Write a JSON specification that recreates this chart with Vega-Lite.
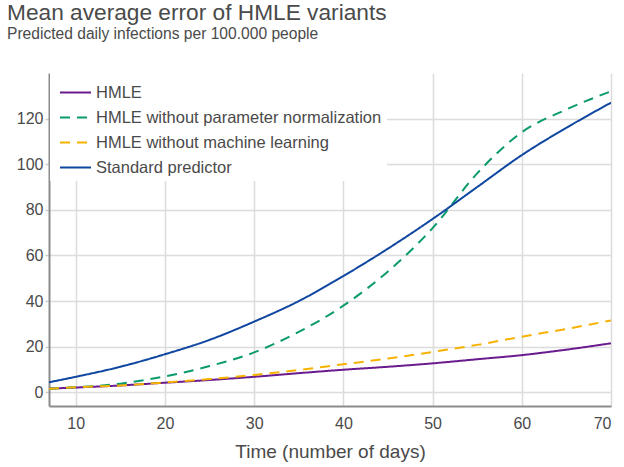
{
  "$schema": "https://vega.github.io/schema/vega-lite/v6.json",
  "autosize": "none",
  "padding": {"left": 49, "top": 73, "right": 13, "bottom": 61},
  "width": 562,
  "height": 333,
  "background": "white",
  "config": {
    "font": "Liberation Sans",
    "view": {"stroke": null}
  },
  "title": {
    "text": "Mean average error of HMLE variants",
    "subtitle": "Predicted daily infections per 100.000 people",
    "anchor": "start",
    "frame": "group",
    "dx": -42,
    "offset": 28,
    "font": "Liberation Sans",
    "fontSize": 22.7,
    "fontWeight": "normal",
    "color": "#4a4a4a",
    "subtitleFont": "Liberation Sans",
    "subtitleFontSize": 15.6,
    "subtitleColor": "#4a4a4a",
    "subtitlePadding": 3
  },
  "data": {
    "values": [
      {"day": 7, "series": "HMLE", "value": 1.6},
      {"day": 10, "series": "HMLE", "value": 2.1},
      {"day": 15, "series": "HMLE", "value": 3.0},
      {"day": 20, "series": "HMLE", "value": 4.2},
      {"day": 25, "series": "HMLE", "value": 5.4},
      {"day": 30, "series": "HMLE", "value": 6.8},
      {"day": 35, "series": "HMLE", "value": 8.4},
      {"day": 40, "series": "HMLE", "value": 9.9},
      {"day": 45, "series": "HMLE", "value": 11.2},
      {"day": 50, "series": "HMLE", "value": 12.7},
      {"day": 55, "series": "HMLE", "value": 14.5},
      {"day": 60, "series": "HMLE", "value": 16.3},
      {"day": 65, "series": "HMLE", "value": 18.7},
      {"day": 70, "series": "HMLE", "value": 21.5},
      {"day": 7, "series": "HMLE without parameter normalization", "value": 1.6},
      {"day": 10, "series": "HMLE without parameter normalization", "value": 2.2},
      {"day": 15, "series": "HMLE without parameter normalization", "value": 3.8},
      {"day": 20, "series": "HMLE without parameter normalization", "value": 7.0},
      {"day": 25, "series": "HMLE without parameter normalization", "value": 11.5},
      {"day": 30, "series": "HMLE without parameter normalization", "value": 17.5},
      {"day": 35, "series": "HMLE without parameter normalization", "value": 26.5},
      {"day": 40, "series": "HMLE without parameter normalization", "value": 38},
      {"day": 45, "series": "HMLE without parameter normalization", "value": 53},
      {"day": 50, "series": "HMLE without parameter normalization", "value": 72},
      {"day": 55, "series": "HMLE without parameter normalization", "value": 96},
      {"day": 60, "series": "HMLE without parameter normalization", "value": 114},
      {"day": 65, "series": "HMLE without parameter normalization", "value": 124},
      {"day": 70, "series": "HMLE without parameter normalization", "value": 132},
      {"day": 7, "series": "HMLE without machine learning", "value": 1.6},
      {"day": 10, "series": "HMLE without machine learning", "value": 2.2},
      {"day": 15, "series": "HMLE without machine learning", "value": 3.0},
      {"day": 20, "series": "HMLE without machine learning", "value": 4.3},
      {"day": 25, "series": "HMLE without machine learning", "value": 5.8},
      {"day": 30, "series": "HMLE without machine learning", "value": 7.6},
      {"day": 35, "series": "HMLE without machine learning", "value": 9.8},
      {"day": 40, "series": "HMLE without machine learning", "value": 12.3},
      {"day": 45, "series": "HMLE without machine learning", "value": 14.8},
      {"day": 50, "series": "HMLE without machine learning", "value": 17.7},
      {"day": 55, "series": "HMLE without machine learning", "value": 20.8},
      {"day": 60, "series": "HMLE without machine learning", "value": 24.4},
      {"day": 65, "series": "HMLE without machine learning", "value": 27.8},
      {"day": 70, "series": "HMLE without machine learning", "value": 31.5},
      {"day": 7, "series": "Standard predictor", "value": 4.4},
      {"day": 10, "series": "Standard predictor", "value": 6.8},
      {"day": 15, "series": "Standard predictor", "value": 11.2},
      {"day": 20, "series": "Standard predictor", "value": 16.7},
      {"day": 25, "series": "Standard predictor", "value": 23},
      {"day": 30, "series": "Standard predictor", "value": 31},
      {"day": 35, "series": "Standard predictor", "value": 40},
      {"day": 40, "series": "Standard predictor", "value": 51},
      {"day": 45, "series": "Standard predictor", "value": 63},
      {"day": 50, "series": "Standard predictor", "value": 76},
      {"day": 55, "series": "Standard predictor", "value": 90},
      {"day": 60, "series": "Standard predictor", "value": 104},
      {"day": 65, "series": "Standard predictor", "value": 116},
      {"day": 70, "series": "Standard predictor", "value": 127}
    ]
  },
  "mark": {"type": "line", "strokeWidth": 2, "interpolate": "monotone", "clip": true},
  "encoding": {
    "x": {
      "field": "day",
      "type": "quantitative",
      "scale": {"domain": [7, 70], "nice": false, "zero": false},
      "axis": {
        "title": "Time (number of days)",
        "values": [10, 20, 30, 40, 50, 60, 70],
        "titleFont": "Liberation Sans",
        "titleFontSize": 19,
        "titleFontWeight": "normal",
        "titleColor": "#4a4a4a",
        "titlePadding": 11,
        "labelFont": "Liberation Sans",
        "labelFontSize": 16,
        "labelColor": "#4a4a4a",
        "labelPadding": 9,
        "ticks": false,
        "domainColor": "#8c8c8c",
        "domainWidth": 2,
        "gridColor": "#dcdcdc",
        "gridWidth": 1.5
      }
    },
    "y": {
      "field": "value",
      "type": "quantitative",
      "scale": {"domain": [-6, 140], "nice": false, "zero": false},
      "axis": {
        "title": null,
        "values": [0, 20, 40, 60, 80, 100, 120],
        "labelFont": "Liberation Sans",
        "labelFontSize": 16,
        "labelColor": "#4a4a4a",
        "labelPadding": 2,
        "tickSize": 4,
        "tickColor": "#cccccc",
        "tickWidth": 1.5,
        "domainColor": "#8c8c8c",
        "domainWidth": 2,
        "gridColor": "#dcdcdc",
        "gridWidth": 1.5
      }
    },
    "color": {
      "field": "series",
      "type": "nominal",
      "sort": ["HMLE", "HMLE without parameter normalization", "HMLE without machine learning", "Standard predictor"],
      "scale": {
        "domain": ["HMLE", "HMLE without parameter normalization", "HMLE without machine learning", "Standard predictor"],
        "range": ["#6a1b8e", "#0b9a6c", "#f5b200", "#0f46a0"]
      },
      "legend": {
        "title": null,
        "orient": "none",
        "legendX": 1,
        "legendY": -2,
        "padding": 5,
        "fillColor": "white",
        "labelFont": "Liberation Sans",
        "labelFontSize": 16.5,
        "labelColor": "#4a4a4a",
        "labelLimit": 400,
        "symbolType": "stroke",
        "symbolSize": 961,
        "symbolStrokeWidth": 2,
        "symbolOffset": 4,
        "rowPadding": 0,
        "labelOffset": 4
      }
    },
    "strokeDash": {
      "field": "series",
      "type": "nominal",
      "sort": ["HMLE", "HMLE without parameter normalization", "HMLE without machine learning", "Standard predictor"],
      "scale": {
        "domain": ["HMLE", "HMLE without parameter normalization", "HMLE without machine learning", "Standard predictor"],
        "range": [[1, 0], [10, 7], [10, 7], [1, 0]]
      },
      "legend": null
    }
  }
}
